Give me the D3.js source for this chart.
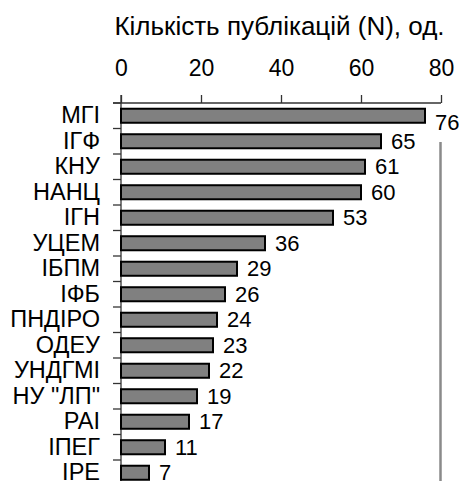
<!DOCTYPE html>
<html>
<head>
<meta charset="utf-8">
<script src="https://cdn.jsdelivr.net/npm/d3@7"></script>
<style>
  body { margin: 0; background: #fff; }
  svg text { font-family: "Liberation Sans", Arial, sans-serif; fill: #000; }
</style>
</head>
<body>
<div id="chart"></div>
<script>
const categories = ["МГІ", "ІГФ", "КНУ", "НАНЦ", "ІГН", "УЦЕМ", "ІБПМ", "ІФБ",
  "ПНДІРО", "ОДЕУ", "УНДГМІ", "НУ \"ЛП\"", "РАІ", "ІПЕГ", "ІРЕ"];
const values = [76, 65, 61, 60, 53, 36, 29, 26, 24, 23, 22, 19, 17, 11, 7];
const xTicks = [0, 20, 40, 60, 80];
const title = "Кількість публікацій (N), од.";

const width = 459;
const height = 481;
const margin = { top: 103, left: 121 };
const step = 25.5;

const svg = d3.select("#chart")
  .append("svg")
  .attr("width", width)
  .attr("height", height);

const xscale = d3.scaleLinear()
  .domain([0, 80])
  .range([margin.left, margin.left + 320]);

// bands with no padding: boundaries carry the ticks, bars sit in the middle
const yscale = d3.scaleBand()
  .domain(categories)
  .range([margin.top, margin.top + step * categories.length]);

const barPad = 0.225;

// right gray border (partly hidden behind the top labels)
svg.append("line")
  .attr("x1", xscale(80) - 0.5)
  .attr("x2", xscale(80) - 0.5)
  .attr("y1", 142)
  .attr("y2", height + 10)
  .attr("stroke", "#8a8a8a")
  .attr("stroke-width", 2.5);

svg.append("text")
  .attr("x", 279.5)
  .attr("y", 35)
  .attr("text-anchor", "middle")
  .style("font-size", "26px")
  .text(title);

const x_axis = d3.axisTop(xscale)
  .tickValues(xTicks)
  .tickSize(8)
  .tickPadding(19)
  .tickSizeOuter(0);

const gx = svg.append("g")
  .attr("transform", `translate(0, ${margin.top})`)
  .call(x_axis);
gx.select(".domain").remove();
gx.selectAll("line").attr("stroke", "#333").attr("stroke-width", 1.3);
gx.selectAll("text").style("font-size", "23px");

svg.append("line")
  .attr("x1", xscale(0) - 8)
  .attr("x2", xscale(80))
  .attr("y1", margin.top)
  .attr("y2", margin.top)
  .attr("stroke", "#333")
  .attr("stroke-width", 1.3);

svg.append("line")
  .attr("x1", xscale(0))
  .attr("x2", xscale(0))
  .attr("y1", margin.top - 8)
  .attr("y2", height + 10)
  .attr("stroke", "#333")
  .attr("stroke-width", 1.3);

// category boundary ticks
const bounds = categories.map((c) => yscale(c)).concat([yscale.range()[1]]);
svg.append("g")
  .selectAll("line")
  .data(bounds)
  .join("line")
  .attr("x1", xscale(0) - 8)
  .attr("x2", xscale(0))
  .attr("y1", (d) => d)
  .attr("y2", (d) => d)
  .attr("stroke", "#333")
  .attr("stroke-width", 1.3);

const y_axis = d3.axisLeft(yscale)
  .tickSize(0)
  .tickPadding(21);

const gy = svg.append("g")
  .attr("transform", `translate(${xscale(0)}, 0)`)
  .call(y_axis);
gy.select(".domain").remove();
gy.selectAll("text").style("font-size", "23.5px");

svg.append("g")
  .selectAll("rect")
  .data(values)
  .join("rect")
  .attr("x", xscale(0))
  .attr("y", (d, i) => yscale(categories[i]) + yscale.bandwidth() * barPad)
  .attr("width", (d) => xscale(d) - xscale(0))
  .attr("height", yscale.bandwidth() * (1 - 2 * barPad))
  .attr("fill", "#808080")
  .attr("stroke", "#000")
  .attr("stroke-width", 2);

svg.append("g")
  .selectAll("text")
  .data(values)
  .join("text")
  .attr("x", (d) => xscale(d) + 10)
  .attr("y", (d, i) => yscale(categories[i]) + yscale.bandwidth() / 2 + (i === 0 ? 7 : 0))
  .attr("dy", "0.35em")
  .style("font-size", "22px")
  .text((d) => d);
</script>
</body>
</html>
